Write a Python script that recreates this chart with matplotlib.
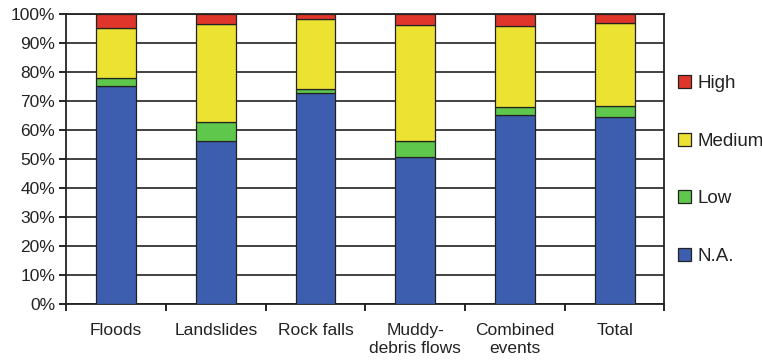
import matplotlib.pyplot as plt
import numpy as np

plt.rcParams['font.family'] = ['Liberation Sans', 'DejaVu Sans']

categories = ['Floods', 'Landslides', 'Rock falls', 'Muddy-\ndebris flows', 'Combined\nevents', 'Total']
na = [75.3, 56.3, 72.9, 50.7, 65.0, 64.3]
low = [2.5, 6.5, 1.4, 5.6, 3.0, 4.1]
medium = [17.5, 33.7, 24.1, 39.9, 27.8, 28.4]
high = [4.7, 3.5, 1.6, 3.8, 4.2, 3.2]

colors = {'N.A.': '#3d5eae', 'Low': '#5fc74b', 'Medium': '#ebe232', 'High': '#e0352a'}

fig = plt.figure(figsize=(7.62, 3.6), dpi=100)
ax = fig.add_axes([0.087, 0.156, 0.785, 0.805])

x = np.arange(len(categories))
bottom = np.zeros(len(categories))
handles = {}
for name, vals in [('N.A.', na), ('Low', low), ('Medium', medium), ('High', high)]:
    b = ax.bar(x, vals, 0.4, bottom=bottom, color=colors[name], edgecolor='#222222',
               linewidth=0.9, zorder=3, label=name)
    handles[name] = b
    bottom += np.array(vals)

ax.set_xlim(-0.5, len(categories) - 0.5)
ax.set_ylim(0, 100)
ax.set_yticks(np.arange(0, 101, 10))
ax.set_yticklabels([f'{v}%' for v in range(0, 101, 10)], fontsize=12.5, color='#222222')
ax.yaxis.grid(True, color='#333333', linewidth=1.3, zorder=0)

ax.set_xticks(x)
ax.set_xticklabels(categories, fontsize=12.5, color='#222222')
ax.tick_params(axis='x', length=0, pad=14)
ax.set_xticks(np.arange(-0.5, len(categories), 1), minor=True)
ax.tick_params(axis='x', which='minor', length=5, width=1.2, direction='out')
ax.tick_params(axis='y', length=5, width=1.2, direction='out', pad=3)

for s in ax.spines.values():
    s.set_color('#222222')
    s.set_linewidth(1.3)

order = ['High', 'Medium', 'Low', 'N.A.']
leg = fig.legend([handles[k] for k in order], order, loc='center left',
                 bbox_to_anchor=(0.868, 0.528), frameon=False, fontsize=13.5,
                 handlelength=0.7, handleheight=0.7, handletextpad=0.3,
                 labelspacing=2.15)
for t in leg.get_texts():
    t.set_color('#222222')

fig.savefig('out.png', dpi=100)
